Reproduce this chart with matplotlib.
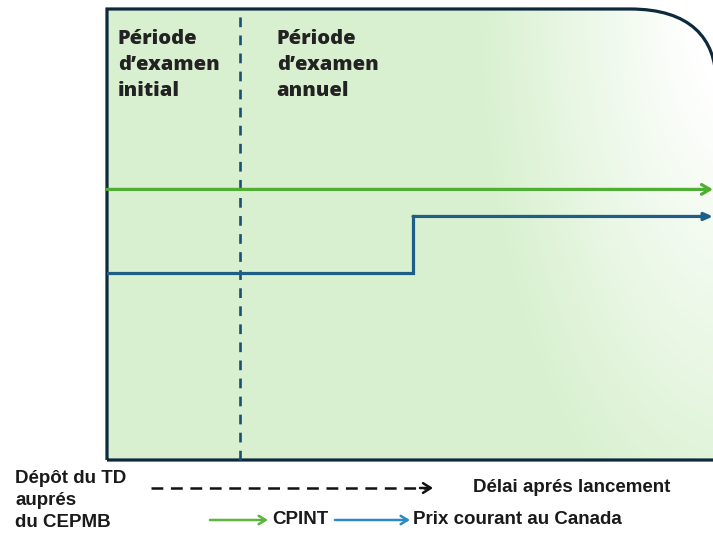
import numpy as np
import matplotlib
matplotlib.use("Agg")
import matplotlib.pyplot as plt
from matplotlib.path import Path
from matplotlib.patches import PathPatch

# time axis (arbitrary units after filing) and price levels
review_end = 2.2                 # end of the initial review period
cpint_x = [0, 10]
cpint_y = [6.0, 6.0]
prix_x = [0, 5.05, 10]
prix_y = [4.15, 5.4, 5.4]

top_labels = ["Période\nd\u2019examen\ninitial", "Période\nd\u2019examen\nannuel"]
top_label_x = [0.18, 2.8]
bottom_left = "Dépôt du TD\nauprés\ndu CEPMB"
axis_label = "Délai aprés lancement"
legend_labels = ["CPINT", "Prix courant au Canada"]

green = "#4fae34"
blue = "#1f5f86"
navy = "#0d2a3c"
narrow = ["Liberation Sans Narrow", "Liberation Sans", "DejaVu Sans"]
plt.rcParams["lines.scale_dashes"] = False

W, H = 713, 535
fig = plt.figure(figsize=(W / 100, H / 100), dpi=100)

# background layer in pixel coordinates: gradient box with rounded corner
bg = fig.add_axes([0, 0, 1, 1])
bg.set_xlim(0, W)
bg.set_ylim(H, 0)
bg.axis("off")

L, T, R, B = 107, 9, 716, 460
verts = [(L, B), (L, T), (630, T), (690, T), (R, 38), (R, 82), (R, B), (L, B)]
codes = [Path.MOVETO, Path.LINETO, Path.LINETO, Path.CURVE4, Path.CURVE4, Path.CURVE4,
         Path.LINETO, Path.CLOSEPOLY]
box = PathPatch(Path(verts, codes), facecolor="none", edgecolor=navy, lw=2.3,
                zorder=5, clip_on=False)

yy, xx = np.mgrid[T:B, L:R]
d = np.sqrt((xx - 740.0) ** 2 + (0.45 * (yy + 10.0)) ** 2)
t = np.clip((d - 50) / 210, 0, 1)
base = np.array([0.851, 0.945, 0.816])
img = 1 - t[..., None] * (1 - base)
im = bg.imshow(img, extent=(L, R, B, T), origin="upper", aspect="auto", zorder=1)
clip = PathPatch(Path(verts, codes), facecolor="none", edgecolor="none")
bg.add_patch(clip)
im.set_clip_path(clip)
bg.add_patch(box)

# data layer
ax = fig.add_axes([107 / W, (H - 460) / H, (713 - 107) / W, (460 - 9) / H])
ax.set_xlim(0, 10)
ax.set_ylim(0, 10)
ax.patch.set_alpha(0)
ax.axis("off")

ax.plot([review_end, review_end], [0, 10], color="#1b4f72", lw=1.9,
        dashes=(7, 6), zorder=3, clip_on=False)

ax.annotate("", xy=(cpint_x[-1], cpint_y[-1]), xytext=(cpint_x[0], cpint_y[0]),
            arrowprops=dict(arrowstyle="->,head_length=0.6,head_width=0.35",
                            color=green, lw=2.3, shrinkA=0, shrinkB=0), zorder=4)
ax.plot(prix_x[:-1] + [prix_x[-2]], prix_y[:-1] + [prix_y[-1]], drawstyle="steps-post",
        color=blue, lw=2.3, zorder=4, solid_joinstyle="miter")
ax.annotate("", xy=(prix_x[-1], prix_y[-1]), xytext=(prix_x[-2], prix_y[-2]),
            arrowprops=dict(arrowstyle="-|>,head_length=0.5,head_width=0.22",
                            color=blue, lw=2.3, shrinkA=0, shrinkB=0), zorder=4)

for x, s in zip(top_label_x, top_labels):
    ax.text(x, 9.55, s, ha="left", va="top", fontsize=14.5, fontweight=800,
            family=["Open Sans", "DejaVu Sans"], color="#222222", linespacing=1.4)

# captions under the box
fig.text(15 / W, 1 - 470 / H, bottom_left, ha="left", va="top", fontsize=13.5,
         fontweight="bold", family=narrow, color="#1a1a1a", linespacing=1.38)
bg.plot([151, 426], [488, 488], color="#111111", lw=1.8, dashes=(8.5, 5.5))
bg.annotate("", xy=(433, 488), xytext=(420, 488),
            arrowprops=dict(arrowstyle="->,head_length=0.55,head_width=0.35",
                            color="#111111", lw=1.8, shrinkA=0, shrinkB=0))
bg.text(473, 488, axis_label, ha="left", va="center", fontsize=13.5,
        fontweight="bold", family=narrow, color="#1a1a1a")

bg.annotate("", xy=(268, 520), xytext=(210, 520),
            arrowprops=dict(arrowstyle="->,head_length=0.5,head_width=0.3",
                            color="#5bb53f", lw=1.8, shrinkA=0, shrinkB=0))
bg.text(272, 520, legend_labels[0], ha="left", va="center", fontsize=13.5,
        fontweight="bold", family=narrow, color="#1a1a1a")
bg.annotate("", xy=(410, 520), xytext=(335, 520),
            arrowprops=dict(arrowstyle="->,head_length=0.5,head_width=0.3",
                            color="#2b8bc0", lw=1.8, shrinkA=0, shrinkB=0))
bg.text(413, 520, legend_labels[1], ha="left", va="center", fontsize=13.5,
        fontweight="bold", family=narrow, color="#1a1a1a")

fig.savefig("out.png", dpi=100)
